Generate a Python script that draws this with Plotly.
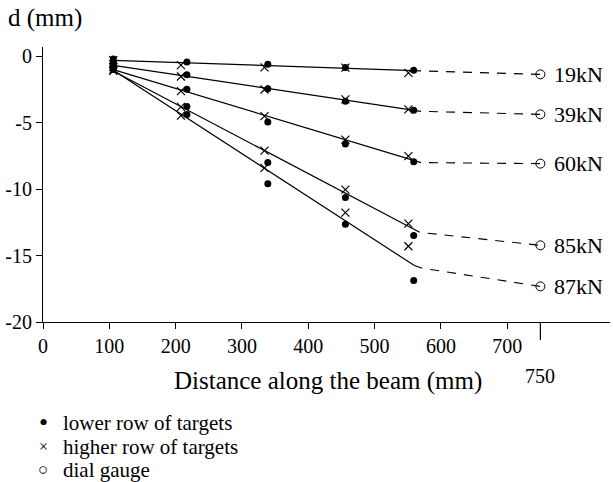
import plotly.graph_objects as go

# ---- data ----
loads = ["19kN", "39kN", "60kN", "85kN", "87kN"]

lower_x = [106, 217, 339, 456, 559]
higher_x = [106, 208, 334, 456, 551]

lower_19 = [-0.2, -0.43, -0.6, -0.85, -1.05]
lower_39 = [-0.5, -1.38, -2.45, -3.39, -4.07]
lower_60 = [-0.7, -2.48, -4.95, -6.6, -7.93]
lower_85 = [-0.9, -3.77, -8.0, -10.62, -13.48]
lower_87 = [-1.0, -4.39, -9.59, -12.65, -16.87]

higher_19 = [-0.3, -0.66, -0.83, -0.85, -1.25]
higher_39 = [-0.6, -1.52, -2.5, -3.24, -4.0]
higher_60 = [-0.8, -2.62, -4.5, -6.27, -7.52]
higher_85 = [-1.0, -3.81, -7.1, -10.03, -12.6]
higher_87 = [-1.1, -4.47, -8.4, -11.77, -14.3]

dial_x = 750
dial_y = [-1.36, -4.37, -8.08, -14.23, -17.32]

fit_x_19 = [106, 570]
fit_y_19 = [-0.3, -1.1]
fit_x_39 = [106, 570]
fit_y_39 = [-0.68, -4.14]
fit_x_60 = [106, 570]
fit_y_60 = [-1.0, -8.0]
fit_x_85 = [106, 568]
fit_y_85 = [-1.1, -13.25]
fit_x_87 = [106, 560, 572]
fit_y_87 = [-1.05, -15.75, -15.95]

x_tick_vals = [0, 100, 200, 300, 400, 500, 600, 700]
y_tick_vals = [0, -5, -10, -15, -20]
y_tick_text = ["0", "-5", "-10", "-15", "-20"]

legend_labels = ["lower row of targets", "higher row of targets", "dial gauge"]
legend_symbols = ["\u2022", "\u00d7", "\u25cb"]
legend_symbol_sizes = [26, 16, 17]

lowers = [lower_19, lower_39, lower_60, lower_85, lower_87]
highers = [higher_19, higher_39, higher_60, higher_85, higher_87]
fits_x = [fit_x_19, fit_x_39, fit_x_60, fit_x_85, fit_x_87]
fits_y = [fit_y_19, fit_y_39, fit_y_60, fit_y_85, fit_y_87]

FONT = "Liberation Serif"
fig = go.Figure()

for i, name in enumerate(loads):
    fig.add_trace(go.Scatter(x=fits_x[i], y=fits_y[i], mode="lines",
                             line=dict(color="black", width=1.2), showlegend=False,
                             hoverinfo="skip"))
    fig.add_trace(go.Scatter(x=[fits_x[i][-1], dial_x], y=[fits_y[i][-1], dial_y[i]],
                             mode="lines", line=dict(color="black", width=1.1,
                                                      dash="0px,8px,9px,0px"),
                             showlegend=False, hoverinfo="skip"))
    fig.add_trace(go.Scatter(x=higher_x, y=highers[i], mode="markers", name="higher row of targets",
                             marker=dict(symbol="x-thin-open", size=8, color="black",
                                         line=dict(color="black", width=1.2)),
                             showlegend=False))
    fig.add_trace(go.Scatter(x=lower_x, y=lowers[i], mode="markers", name="lower row of targets",
                             marker=dict(symbol="circle", size=7, color="black"),
                             showlegend=False))
    fig.add_trace(go.Scatter(x=[dial_x], y=[dial_y[i]], mode="markers", name="dial gauge",
                             marker=dict(symbol="circle-open", size=9, color="black",
                                         line=dict(color="black", width=1)),
                             showlegend=False))
    fig.add_annotation(x=dial_x, y=dial_y[i], xref="x", yref="y", text=name,
                       showarrow=False, xanchor="left", yanchor="middle", xshift=12,
                       font=dict(family=FONT, size=22, color="black"))

# long tick and label at 750
fig.add_shape(type="line", xref="x", yref="paper", x0=dial_x, x1=dial_x, y0=0, y1=-0.065,
              line=dict(color="black", width=1.2))
fig.add_annotation(x=dial_x, y=-0.195, xref="x", yref="paper", text=str(dial_x),
                   showarrow=False, xanchor="center", yanchor="middle",
                   font=dict(family=FONT, size=20, color="black"))

# axis titles
fig.add_annotation(x=0.503, y=-0.215, xref="paper", yref="paper",
                   text="Distance along the beam (mm)", showarrow=False,
                   xanchor="center", yanchor="middle",
                   font=dict(family=FONT, size=25, color="black"))
fig.add_annotation(x=-0.066, y=1.105, xref="paper", yref="paper", text="d (mm)",
                   showarrow=False, xanchor="left", yanchor="middle",
                   font=dict(family=FONT, size=25, color="black"))

# legend as text rows
legend_rows_y = [-0.367, -0.4545, -0.538]
for sym, sz, lab, yy in zip(legend_symbols, legend_symbol_sizes, legend_labels, legend_rows_y):
    fig.add_annotation(x=0, y=yy, xref="paper", yref="paper", text=sym, showarrow=False,
                       xanchor="center", yanchor="middle",
                       font=dict(family=FONT, size=sz, color="black"))
    fig.add_annotation(x=0, y=yy, xref="paper", yref="paper", text=lab, showarrow=False,
                       xanchor="left", yanchor="middle", xshift=18,
                       font=dict(family=FONT, size=21, color="black"))

fig.update_layout(
    width=613, height=482,
    margin=dict(l=43, r=3, t=47, b=160),
    plot_bgcolor="white", paper_bgcolor="white",
    font=dict(family=FONT, size=20, color="black"),
    showlegend=False,
)
fig.update_xaxes(range=[0, 855], tickvals=x_tick_vals, ticks="outside", ticklen=6,
                 tickwidth=1, tickcolor="black", showline=True, linecolor="black",
                 linewidth=1.2, showgrid=False, zeroline=False,
                 tickfont=dict(family=FONT, size=20, color="black"))
fig.update_yaxes(range=[-20, 0.7], tickvals=y_tick_vals, ticktext=y_tick_text,
                 ticks="outside", ticklen=6, tickwidth=1, tickcolor="black",
                 showline=True, linecolor="black", linewidth=1.2, showgrid=False,
                 zeroline=False, tickfont=dict(family=FONT, size=20, color="black"))

fig.write_html("out.html", config={"displayModeBar": False},
               post_script="document.body.style.margin='0px';document.body.style.overflow='hidden';")
